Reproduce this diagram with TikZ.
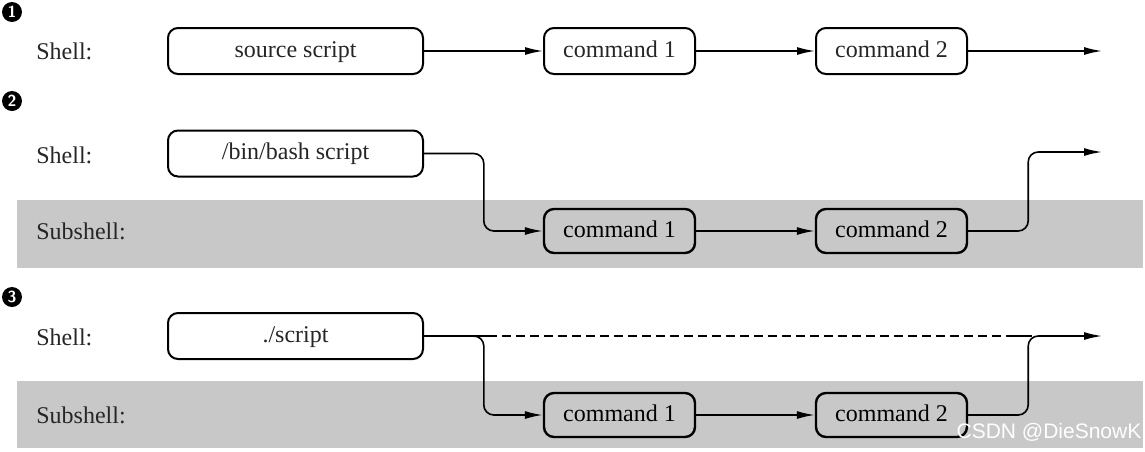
\documentclass[tikz,border=0pt]{standalone}
\usepackage{fontspec}
\setmainfont{Liberation Serif}
\newfontfamily\marksans{Liberation Sans}
\usetikzlibrary{calc, positioning, arrows.meta}
\definecolor{bandgray}{HTML}{C8C8C8}

\begin{document}
\begin{tikzpicture}[x=0.5pt, y=-0.5pt,
      font=\fontsize{12}{14}\selectfont,
      stepnum/.style={circle, fill=black, text=white, inner sep=0pt, minimum size=10pt, font=\fontsize{8}{8}\sffamily\bfseries},
      rowlabel/.style={anchor=west, inner sep=0pt, text=black!85},
      shellnode/.style={rectangle, rounded corners=5pt, draw=black, fill=white, line width=1pt, minimum height=23pt, minimum width=75.5pt, text height=8.5pt, text depth=2.5pt, text=black!85},
      subnode/.style={shellnode, fill=bandgray, line width=1.2pt, minimum height=22pt, text=black},
      flow/.style={line width=0.8pt, -{Latex[length=9pt, width=4pt]}},
      ]
      \useasboundingbox (0,0) rectangle (1145,451);
      %Bands
      \fill[bandgray] (17,200) rectangle (1143,268);
      \fill[bandgray] (17,381) rectangle (1143,448);

      %Nodes
      \node[stepnum]   (num1)   at (12,12)  {1};
      \node[rowlabel]  (shell1) at (36,51)  {Shell:};
      \node[shellnode, minimum width=127.5pt] (source) at (295.5,51) {source script};
      \node[shellnode] (cmdA1) [right=59.5pt of source] {command 1};
      \node[shellnode] (cmdB1) [right=59.5pt of cmdA1]  {command 2};
      \coordinate (end1) at (1102,51);

      \node[stepnum]   (num2)   at (12,101) {2};
      \node[rowlabel]  (shell2) at (36,155) {Shell:};
      \node[rowlabel]  (sub2)   at (36,231) {Subshell:};
      \node[shellnode, minimum width=127.5pt] (bash) at (295.5,153.5) {/bin/bash script};
      \node[subnode]   (cmdA2) at (cmdA1 |- sub2) {command 1};
      \node[subnode]   (cmdB2) at (cmdB1 |- sub2) {command 2};
      \coordinate (end2) at (1102,152);

      \node[stepnum]   (num3)   at (12,297) {3};
      \node[rowlabel]  (shell3) at (36,337) {Shell:};
      \node[rowlabel]  (sub3)   at (36,415) {Subshell:};
      \node[shellnode, minimum width=127.5pt] (script) at (295.5,336) {./script};
      \node[subnode]   (cmdA3) at (cmdA1 |- sub3) {command 1};
      \node[subnode]   (cmdB3) at (cmdB1 |- sub3) {command 2};
      \coordinate (end3) at (script.east -| end1);

      \node[text=white, font=\marksans\fontsize{10.5}{12}\selectfont] (watermark) at (1049,432) {CSDN @DieSnowK};

      %Lines
      \draw[flow] (source) -- (cmdA1);
      \draw[flow] (cmdA1) -- (cmdB1);
      \draw[flow] (cmdB1) -- (end1);

      \draw[flow, rounded corners=5pt] (bash.east) -| ($(cmdA2.west)+(-59,0)$) -- (cmdA2.west);
      \draw[flow] (cmdA2) -- (cmdB2);
      \draw[flow, rounded corners=5pt] (cmdB2.east) -- ++(60,0) |- (end2);

      \draw[line width=0.8pt] (script.east) -- ++(64,0);
      \draw[line width=0.8pt, dash pattern=on 4.25pt off 2.75pt] ($(script.east)+(64,0)$) -- ($(end3)+(-89,0)$);
      \draw[line width=0.8pt] ($(end3)+(-89,0)$) -- ($(end3)+(-70,0)$);
      \draw[flow, rounded corners=5pt] (script.east) -| ($(cmdA3.west)+(-59,0)$) -- (cmdA3.west);
      \draw[flow] (cmdA3) -- (cmdB3);
      \draw[flow, rounded corners=5pt] (cmdB3.east) -- ++(60,0) |- (end3);
    \end{tikzpicture}
\end{document}
